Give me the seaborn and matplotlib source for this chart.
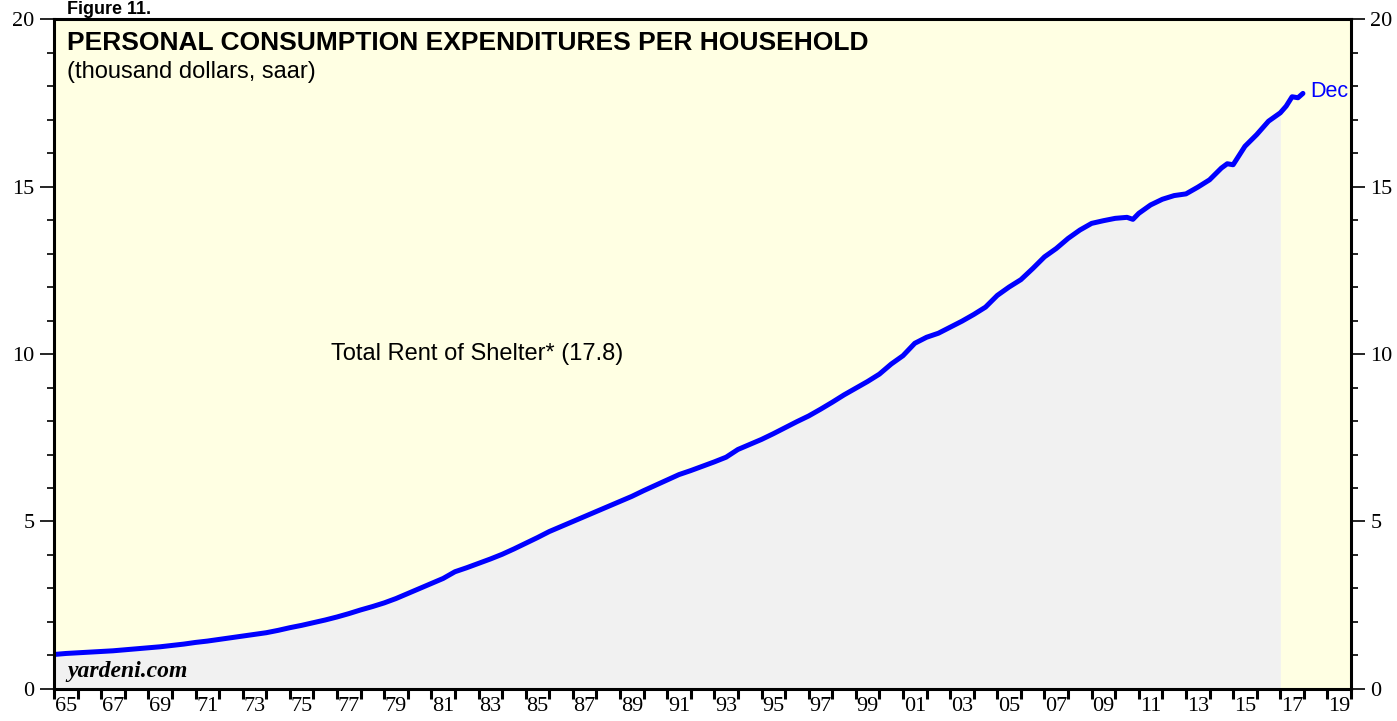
import numpy as np
import pandas as pd
import matplotlib
matplotlib.use("Agg")
import matplotlib.pyplot as plt
import seaborn as sns

# Total rent of shelter per household, thousand dollars
years = [1965.0, 1965.5, 1966.0, 1966.5, 1967.0, 1967.5, 1968.0, 1968.5, 1969.0, 1969.5,
         1970.0, 1970.5, 1971.0, 1971.5, 1972.0, 1972.5, 1973.0, 1973.5, 1974.0, 1974.5,
         1975.0, 1975.5, 1976.0, 1976.5, 1977.0, 1977.5, 1978.0, 1978.5, 1979.0, 1979.5,
         1980.0, 1980.5, 1981.0, 1981.5, 1982.0, 1982.5, 1983.0, 1983.5, 1984.0, 1984.5,
         1985.0, 1985.5, 1986.0, 1986.5, 1987.0, 1987.5, 1988.0, 1988.5, 1989.0, 1989.5,
         1990.0, 1990.5, 1991.0, 1991.5, 1992.0, 1992.5, 1993.0, 1993.5, 1994.0, 1994.5,
         1995.0, 1995.5, 1996.0, 1996.5, 1997.0, 1997.5, 1998.0, 1998.5, 1999.0, 1999.5,
         2000.0, 2000.5, 2001.0, 2001.5, 2002.0, 2002.5, 2003.0, 2003.5, 2004.0, 2004.5,
         2005.0, 2005.5, 2006.0, 2006.5, 2007.0, 2007.5, 2008.0, 2008.5, 2009.0, 2009.5,
         2010.0, 2010.5, 2010.75, 2011.0, 2011.5, 2012.0, 2012.5, 2013.0, 2013.5, 2014.0,
         2014.5, 2014.75, 2015.0, 2015.5, 2016.0, 2016.5, 2017.0, 2017.25, 2017.5, 2017.75,
         2017.96]
rent = [1.03, 1.06, 1.08, 1.10, 1.12, 1.14, 1.17, 1.20, 1.23, 1.26,
        1.30, 1.34, 1.39, 1.43, 1.48, 1.53, 1.58, 1.63, 1.68, 1.75,
        1.83, 1.90, 1.98, 2.06, 2.15, 2.25, 2.36, 2.46, 2.57, 2.70,
        2.85, 3.00, 3.15, 3.30, 3.50, 3.62, 3.75, 3.88, 4.02, 4.18,
        4.35, 4.52, 4.70, 4.85, 5.00, 5.15, 5.30, 5.45, 5.60, 5.75,
        5.92, 6.08, 6.24, 6.40, 6.52, 6.65, 6.78, 6.92, 7.15, 7.30,
        7.45, 7.62, 7.80, 7.98, 8.15, 8.35, 8.56, 8.78, 8.98, 9.18,
        9.40, 9.70, 9.95, 10.32, 10.50, 10.62, 10.80, 10.98, 11.18, 11.40,
        11.75, 12.00, 12.22, 12.55, 12.90, 13.15, 13.45, 13.70, 13.90, 13.98,
        14.05, 14.08, 14.02, 14.20, 14.45, 14.62, 14.73, 14.78, 14.98, 15.20,
        15.55, 15.68, 15.65, 16.20, 16.55, 16.95, 17.20, 17.40, 17.68, 17.65,
        17.78]
fill_end = 2017.0
tick_years = list(range(1965, 2021))
label_years = list(range(1965, 2020, 2))
tick_labels = [f"{y % 100:02d}" for y in label_years]

df = pd.DataFrame({"year": years, "rent": rent})

sns.set_style("ticks")
plt.rcParams["font.family"] = ["Liberation Sans", "DejaVu Sans"]
plt.rcParams["text.color"] = "black"
plt.rcParams["xtick.color"] = "black"
plt.rcParams["ytick.color"] = "black"

fig = plt.figure(figsize=(13.97, 7.21), dpi=100)
ax = fig.add_axes([0.0387, 0.0444, 0.9284, 0.9292])
ax.set_facecolor("#FFFFE3")

shade = df[df["year"] <= fill_end]
ax.fill_between(shade["year"], 0, shade["rent"], color="#F1F1F1", lw=0, zorder=1)
sns.lineplot(data=df, x="year", y="rent", ax=ax, color="#0000FF", lw=3.6, zorder=3)

ax.set_xlim(1965, 2020)
ax.set_ylim(0, 20)
ax.set_xlabel("")
ax.set_ylabel("")

# x: a tick each year, labels centred mid-year
ax.set_xticks(tick_years)
ax.set_xticklabels([])
ax.set_xticks([y + 0.5 for y in label_years], minor=True)
ax.set_xticklabels(tick_labels, minor=True)
ax.tick_params(axis="x", which="major", length=7, width=2.2, direction="out", color="black")
ax.tick_params(axis="x", which="minor", length=0, pad=6, labelcolor="black")

ax.set_yticks([0, 5, 10, 15, 20])
ax.set_yticks(range(0, 21), minor=True)
ax.tick_params(axis="y", which="major", length=10, width=1.2, left=True, right=True,
               labelleft=True, labelright=True, pad=4, labelcolor="black")
ax.tick_params(axis="y", which="minor", length=5, width=1.2, left=True, right=True)

for lab in ax.get_xticklabels(minor=True) + ax.get_yticklabels():
    lab.set_family(["Liberation Serif", "DejaVu Serif"])
    lab.set_fontsize(16)

for s in ax.spines.values():
    s.set_visible(True)
    s.set_linewidth(2.2)
    s.set_color("black")
    s.set_zorder(5)

ax.text(0.010, 0.982, "PERSONAL CONSUMPTION EXPENDITURES PER HOUSEHOLD", transform=ax.transAxes,
        fontsize=19, fontweight="bold", va="top", ha="left")
ax.text(0.010, 0.937, "(thousand dollars, saar)", transform=ax.transAxes,
        fontsize=17, va="top", ha="left")
ax.text(1982.95, 10.0, "Total Rent of Shelter* (17.8)", fontsize=17, ha="center", va="center")
ax.text(2018.25, 17.85, "Dec", fontsize=15.5, color="#0000FF", ha="left", va="center")
ax.text(0.010, 0.010, "yardeni.com", transform=ax.transAxes, fontsize=17,
        fontweight="bold", fontstyle="italic", family=["Liberation Serif", "DejaVu Serif"],
        ha="left", va="bottom")
fig.text(0.048, 0.999, "Figure 11.", fontsize=13, fontweight="bold", ha="left", va="top")

fig.savefig("out.png", dpi=100)
